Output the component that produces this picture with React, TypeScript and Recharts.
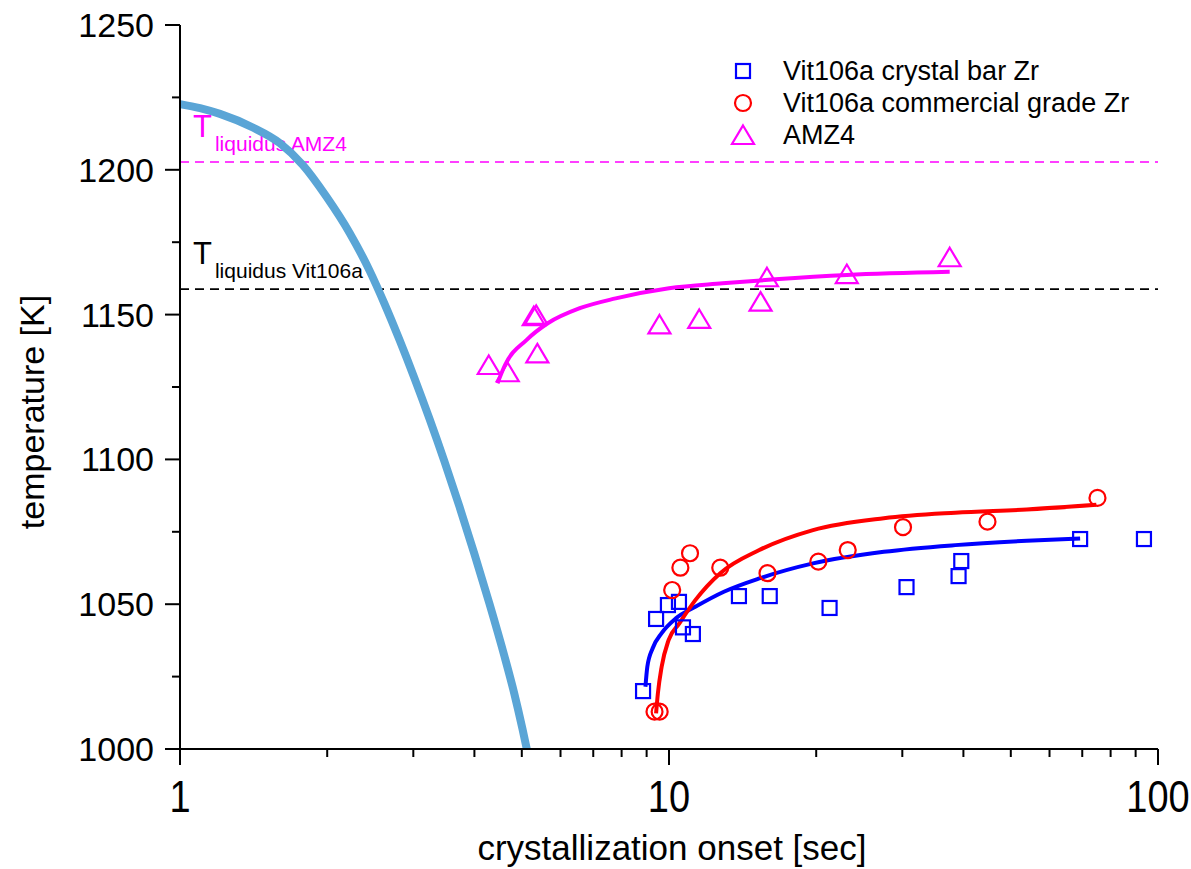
import React from "react";
import {
  ComposedChart,
  Line,
  Scatter,
  XAxis,
  YAxis,
  ReferenceLine,
  Legend,
} from "recharts";

const FONT = "'Liberation Sans', Arial, sans-serif";

// measured points, Vit106a crystal bar Zr
const crystalBarSec = [8.85, 9.41, 9.95, 10.48, 10.68, 11.19, 13.9, 16.07, 21.3, 30.6, 39.1, 39.6, 69.3, 93.6];
const crystalBarK = [1020, 1044.9, 1049.7, 1050.8, 1042, 1039.7, 1052.8, 1052.8, 1048.7, 1055.9, 1059.7, 1064.9, 1072.5, 1072.5];

// measured points, Vit106a commercial grade Zr
const commercialSec = [9.34, 9.57, 10.15, 10.55, 11.04, 12.73, 15.9, 20.2, 23.2, 30.1, 44.8, 75.2];
const commercialK = [1012.9, 1012.9, 1054.9, 1062.6, 1067.6, 1062.6, 1060.7, 1064.7, 1068.7, 1076.6, 1078.5, 1086.7];

// measured points, AMZ4
const amz4Sec = [4.28, 4.68, 5.29, 5.35, 5.38, 9.56, 11.53, 15.39, 15.86, 23.1, 37.5];
const amz4K = [1132.6, 1130.1, 1149.5, 1149.9, 1136.6, 1146.6, 1148.5, 1154.5, 1162.9, 1164, 1169.8];

// fitted curves
const crystalFitSec = [8.95, 9.03, 9.26, 9.66, 10.33, 11.32, 12.95, 15.3, 19.7, 27.5, 38.5, 53.9, 69.3];
const crystalFitK = [1021.5, 1028.4, 1034.8, 1040, 1045.1, 1049.1, 1054.3, 1058.9, 1064.1, 1068.1, 1070.4, 1071.9, 1072.7];

const commercialFitSec = [9.41, 9.49, 9.66, 9.98, 10.5, 11.32, 12.73, 15.3, 19.7, 27.5, 38.5, 53.9, 74.8];
const commercialFitK = [1012.3, 1019.2, 1028.4, 1037.6, 1043.4, 1051.4, 1060.7, 1068.7, 1075.6, 1079.7, 1081.6, 1082.7, 1084.3];

const amz4FitSec = [4.46, 4.62, 5.11, 5.65, 6.57, 7.78, 10, 12.87, 16.5, 23.1, 37.5];
const amz4FitK = [1126.3, 1132.6, 1141.2, 1147, 1152.2, 1155.6, 1159.1, 1160.8, 1162.2, 1163.7, 1164.8];

// thick nose curve
const noseSec = [1.0, 1.099, 1.207, 1.409, 1.6, 1.782, 1.995, 2.223, 2.443, 2.62, 2.812, 3.017, 3.238, 3.474, 3.728, 3.999, 4.292, 4.605, 4.827, 5.012, 5.119];
const noseK = [1222.7, 1221.3, 1219.3, 1214.6, 1209.2, 1201.7, 1190.6, 1178.2, 1165.1, 1153.7, 1141.2, 1128.0, 1114.0, 1099.3, 1083.7, 1067.4, 1050.3, 1032.2, 1019.1, 1007.2, 1000];

const liquidusAMZ4 = 1202.7;
const liquidusVit106a = 1158.8;

const xTicks = [1, 2, 3, 4, 5, 6, 7, 8, 9, 10, 20, 30, 40, 50, 60, 70, 80, 90, 100];
const xMajor = [1, 10, 100];
const yTicks = [1000, 1025, 1050, 1075, 1100, 1125, 1150, 1175, 1200, 1225, 1250];

const zip = (xs: number[], ys: number[]) => xs.map((t, i) => ({ t, T: ys[i] }));

const crystalBar = zip(crystalBarSec, crystalBarK);
const commercial = zip(commercialSec, commercialK);
const amz4 = zip(amz4Sec, amz4K);
const crystalFit = zip(crystalFitSec, crystalFitK);
const commercialFit = zip(commercialFitSec, commercialFitK);
const amz4Fit = zip(amz4FitSec, amz4FitK);
const nose = zip(noseSec, noseK);

const BLUE = "#0000ff";
const RED = "#ff0000";
const MAGENTA = "#ff00ff";

const Square = ({ cx, cy }: any) => (
  <rect x={cx - 7} y={cy - 7} width={14} height={14} fill="none" stroke={BLUE} strokeWidth={2.2} />
);
const Circle = ({ cx, cy }: any) => (
  <circle cx={cx} cy={cy} r={8} fill="none" stroke={RED} strokeWidth={2.2} />
);
const Triangle = ({ cx, cy }: any) => (
  <polygon
    points={`${cx},${cy - 9.5} ${cx + 11},${cy + 9} ${cx - 11},${cy + 9}`}
    fill="none"
    stroke={MAGENTA}
    strokeWidth={2.2}
  />
);

const BottomTick = ({ x, y, payload }: any) => {
  const major = xMajor.includes(payload.value);
  return (
    <g>
      <line x1={x} x2={x} y1={y} y2={y + (major ? 16 : 8)} stroke="#000" strokeWidth={2} />
      {major && (
        <text
          transform={`translate(${x},${y + 63}) scale(1,1.15)`}
          textAnchor="middle"
          fontSize={38}
          fontFamily={FONT}
          fill="#000"
        >
          {payload.value}
        </text>
      )}
    </g>
  );
};

const TopTick = ({ x, y, payload }: any) => {
  const major = xMajor.includes(payload.value);
  return <line x1={x} x2={x} y1={y} y2={y + (major ? 17 : 9)} stroke="#000" strokeWidth={2} />;
};

const LeftTick = ({ x, y, payload }: any) => {
  const major = payload.value % 50 === 0;
  return (
    <g>
      <line x1={x - (major ? 15 : 8)} x2={x} y1={y} y2={y} stroke="#000" strokeWidth={2} />
      {major && (
        <text x={x - 26} y={y + 12} textAnchor="end" fontSize={34} fontFamily={FONT} fill="#000">
          {payload.value}
        </text>
      )}
    </g>
  );
};

const RightTick = ({ x, y, payload }: any) => {
  const major = payload.value % 50 === 0;
  return <line x1={x - (major ? 15 : 8)} x2={x} y1={y} y2={y} stroke="#000" strokeWidth={2} />;
};

const liquidusLabel = (sub: string, color: string) => (props: any) => {
  const vb = props.viewBox;
  return (
    <text x={vb.x + 13} y={vb.y - 25} fill={color} fontSize={31} fontFamily={FONT}>
      T
      <tspan dx={3} dy={14} fontSize={21}>
        {sub}
      </tspan>
    </text>
  );
};

const legendItems = [
  { name: "Vit106a crystal bar Zr", shape: "square" },
  { name: "Vit106a commercial grade Zr", shape: "circle" },
  { name: "AMZ4", shape: "triangle" },
];

const LegendBox = () => (
  <div style={{ fontFamily: FONT, fontSize: 27, color: "#000" }}>
    {legendItems.map((item) => (
      <div key={item.name} style={{ display: "flex", alignItems: "center", height: 32 }}>
        <svg width={30} height={32} style={{ overflow: "visible" }}>
          {item.shape === "square" && <Square cx={15} cy={16} />}
          {item.shape === "circle" && <Circle cx={15} cy={16} />}
          {item.shape === "triangle" && <Triangle cx={15} cy={16} />}
        </svg>
        <span style={{ marginLeft: 25, lineHeight: "32px", whiteSpace: "nowrap" }}>{item.name}</span>
      </div>
    ))}
  </div>
);

export default function App() {
  return (
    <div style={{ position: "absolute", left: 0, top: 0, background: "#fff" }}>
      <ComposedChart width={1191} height={869} margin={{ top: 25, right: 33, bottom: 0, left: 0 }}>
        <XAxis
          dataKey="t"
          type="number"
          scale="log"
          domain={[1, 100]}
          ticks={xTicks}
          interval={0}
          allowDataOverflow
          height={120}
          tickSize={0}
          tickMargin={0}
          tick={<BottomTick />}
          axisLine={{ stroke: "#000", strokeWidth: 2 }}
          tickLine={false}
          label={(props: any) => {
            const vb = props.viewBox;
            return (
              <text
                x={vb.x + vb.width / 2 + 3}
                y={vb.y + 111}
                textAnchor="middle"
                fontSize={35}
                fontFamily={FONT}
                fill="#000"
              >
                crystallization onset [sec]
              </text>
            );
          }}
        />
        <XAxis
          xAxisId="top"
          orientation="top"
          dataKey="t"
          type="number"
          scale="log"
          domain={[1, 100]}
          ticks={xTicks}
          interval={0}
          allowDataOverflow
          height={0}
          tickSize={0}
          tickMargin={0}
          tick={<TopTick />}
          axisLine={{ stroke: "#000", strokeWidth: 2 }}
          tickLine={false}
        />
        <YAxis
          dataKey="T"
          type="number"
          domain={[1000, 1250]}
          ticks={yTicks}
          interval={0}
          allowDataOverflow
          width={180}
          tickSize={0}
          tickMargin={0}
          tick={<LeftTick />}
          axisLine={{ stroke: "#000", strokeWidth: 2 }}
          tickLine={false}
          label={() => (
            <text
              transform="translate(44,412) rotate(-90)"
              textAnchor="middle"
              fontSize={34}
              fontFamily={FONT}
              fill="#000"
            >
              temperature [K]
            </text>
          )}
        />
        <YAxis
          yAxisId="right"
          orientation="right"
          dataKey="T"
          type="number"
          domain={[1000, 1250]}
          ticks={yTicks}
          interval={0}
          allowDataOverflow
          width={0}
          tickSize={0}
          tickMargin={0}
          tick={<RightTick />}
          axisLine={{ stroke: "#000", strokeWidth: 2 }}
          tickLine={false}
        />
        <Legend
          layout="vertical"
          align="center"
          verticalAlign="middle"
          wrapperStyle={{ left: 728, top: 55, width: 440 }}
          content={() => <LegendBox />}
        />
        <ReferenceLine
          y={liquidusAMZ4}
          stroke={MAGENTA}
          strokeWidth={1.6}
          strokeDasharray="9 6"
          label={liquidusLabel("liquidus AMZ4", MAGENTA)}
        />
        <ReferenceLine
          y={liquidusVit106a}
          stroke="#000"
          strokeWidth={1.6}
          strokeDasharray="9 6"
          label={liquidusLabel("liquidus Vit106a", "#000")}
        />
        <Line
          data={nose}
          dataKey="T"
          type="monotone"
          stroke="#5aa5d6"
          strokeWidth={8}
          dot={false}
          activeDot={false}
          isAnimationActive={false}
          legendType="none"
        />
        <Line
          data={amz4Fit}
          dataKey="T"
          type="monotone"
          stroke={MAGENTA}
          strokeWidth={4}
          dot={false}
          activeDot={false}
          isAnimationActive={false}
          legendType="none"
        />
        <Line
          data={crystalFit}
          dataKey="T"
          type="monotone"
          stroke={BLUE}
          strokeWidth={4}
          dot={false}
          activeDot={false}
          isAnimationActive={false}
          legendType="none"
        />
        <Line
          data={commercialFit}
          dataKey="T"
          type="monotone"
          stroke={RED}
          strokeWidth={4}
          dot={false}
          activeDot={false}
          isAnimationActive={false}
          legendType="none"
        />
        <Scatter name="Vit106a crystal bar Zr" data={crystalBar} dataKey="T" shape={<Square />} isAnimationActive={false} />
        <Scatter name="Vit106a commercial grade Zr" data={commercial} dataKey="T" shape={<Circle />} isAnimationActive={false} />
        <Scatter name="AMZ4" data={amz4} dataKey="T" shape={<Triangle />} isAnimationActive={false} />
      </ComposedChart>
    </div>
  );
}
